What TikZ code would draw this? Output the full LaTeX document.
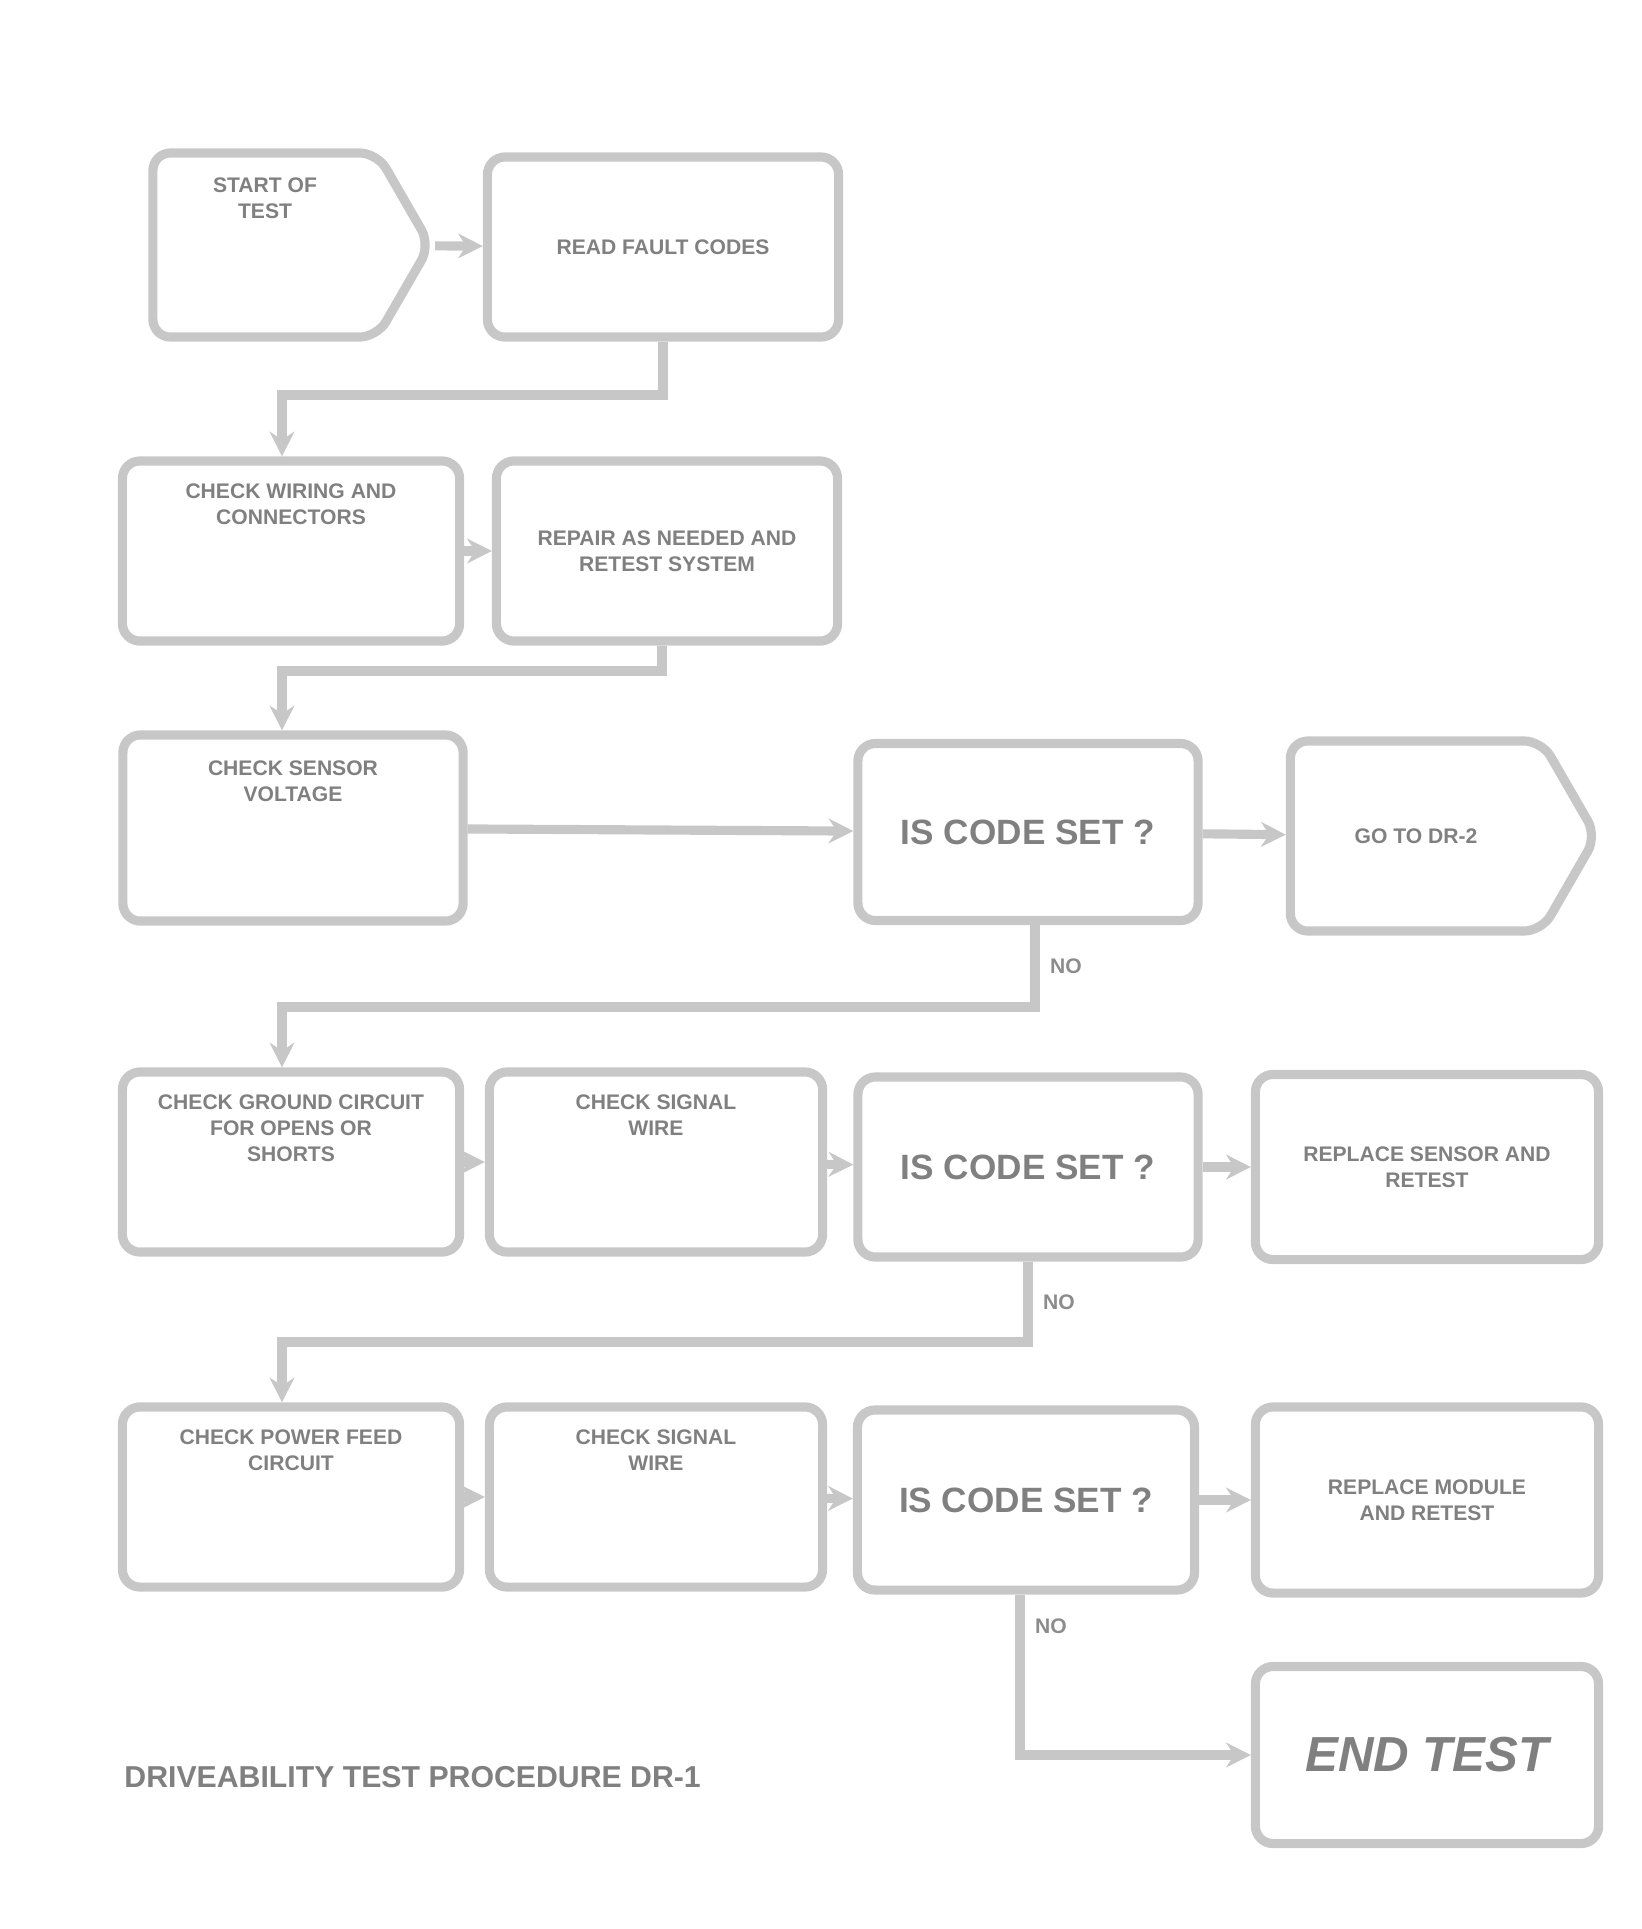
\documentclass[tikz,border=0pt]{standalone}
\usepackage{fontspec}
\setsansfont{Liberation Sans}
\usetikzlibrary{shapes.symbols,arrows.meta}

\newcommand{\toptext}[1]{\parbox[t][1.35cm][t]{3.1cm}{\centering #1}}

\begin{document}
\begin{tikzpicture}[x=0.01cm,y=-0.01cm,
    stepbox/.style={draw=black!22,line width=2.6pt,rounded corners=5pt,
      minimum width=3.4cm,minimum height=1.8cm,inner sep=2pt,
      font=\sffamily\bfseries\fontsize{6}{7.5}\selectfont,text=black!50,align=center},
    askbox/.style={stepbox,font=\sffamily\bfseries\fontsize{10}{12}\selectfont},
    pagebox/.style={stepbox,signal,signal to=east,signal pointer angle=120},
    link/.style={draw=black!22,line width=2.6pt,-{Stealth[length=7pt,width=7pt]}},
    lbl/.style={font=\sffamily\bfseries\fontsize{6}{7}\selectfont,text=black!45,inner sep=3pt}]
  \useasboundingbox (0,0) rectangle (1642,1929);

  % first row
  \node[pagebox,minimum width=2.3cm,minimum height=1.84cm] (start) at (265,245) {\parbox[t][1.35cm][t]{2.1cm}{\centering START OF\\TEST}};
  \node[stepbox,minimum width=3.51cm] (read) at (663,247) {READ FAULT CODES};

  % second row
  \node[stepbox,minimum width=3.37cm] (wiring) at (291,551) {\toptext{CHECK WIRING AND\\CONNECTORS}};
  \node[stepbox,minimum width=3.41cm] (repair) at (667,551) {REPAIR AS NEEDED AND\\RETEST SYSTEM};

  % third row
  \node[stepbox,minimum height=1.86cm] (sensor) at (293,828) {\toptext{CHECK SENSOR\\VOLTAGE}};
  \node[askbox,minimum height=1.77cm] (code1) at (1028,832) {IS CODE SET ?};
  \node[pagebox,minimum width=3.06cm,minimum height=1.9cm] (goto) at (1416,836) {GO TO DR-2};

  % fourth row
  \node[stepbox,minimum width=3.37cm] (ground) at (291,1162) {\toptext{CHECK GROUND CIRCUIT\\FOR OPENS OR\\SHORTS}};
  \node[stepbox,minimum width=3.33cm] (signal1) at (656,1162) {\toptext{CHECK SIGNAL\\WIRE}};
  \node[askbox] (code2) at (1028,1167) {IS CODE SET ?};
  \node[stepbox,minimum width=3.43cm,minimum height=1.85cm] (sensrep) at (1427,1167) {REPLACE SENSOR AND\\RETEST};

  % fifth row
  \node[stepbox,minimum width=3.37cm] (power) at (291,1497) {\toptext{CHECK POWER FEED\\CIRCUIT}};
  \node[stepbox,minimum width=3.33cm] (signal2) at (656,1497) {\toptext{CHECK SIGNAL\\WIRE}};
  \node[askbox,minimum width=3.37cm] (code3) at (1026,1500) {IS CODE SET ?};
  \node[stepbox,minimum width=3.43cm,minimum height=1.86cm] (modrep) at (1427,1500) {REPLACE MODULE\\AND RETEST};

  \node[stepbox,minimum width=3.43cm,minimum height=1.77cm,
    font=\sffamily\bfseries\itshape\fontsize{14}{16}\selectfont] (end) at (1427,1755) {END TEST};

  \node[font=\sffamily\bfseries\fontsize{8.6}{10}\selectfont,text=black!50,anchor=west] (title) at (112,1777)
    {DRIVEABILITY TEST PROCEDURE DR-1};

  % bends between the rows
  \coordinate (b1) at (282,395);
  \coordinate (b2) at (282,671);
  \coordinate (b3) at (282,1007);
  \coordinate (b4) at (282,1342);

  \draw[link] (start) -- (read);
  \draw[link] (read.south) |- (b1) -- (b1 |- wiring.north);
  \draw[link] (wiring) -- (repair);
  \draw[link] ([xshift=-0.05cm]repair.south) |- (b2) -- (b2 |- sensor.north);
  \draw[link] (sensor) -- (code1);
  \draw[link] (code1) -- (goto);
  \draw[link] ([xshift=0.07cm]code1.south) -- node[lbl,right] {NO} ([xshift=0.07cm]code1.south |- b3) -- (b3) -- (b3 |- ground.north);
  \draw[link] (ground) -- (signal1);
  \draw[link] (signal1) -- (code2);
  \draw[link] (code2) -- (sensrep);
  \draw[link] (code2.south) -- node[lbl,right] {NO} (code2.south |- b4) -- (b4) -- (b4 |- power.north);
  \draw[link] (power) -- (signal2);
  \draw[link] (signal2) -- (code3);
  \draw[link] (code3) -- (modrep);
  \draw[link] ([xshift=-0.06cm]code3.south) -- node[lbl,right,pos=0.2] {NO} ([xshift=-0.06cm]code3.south |- end) -- (end);
\end{tikzpicture}
\end{document}
